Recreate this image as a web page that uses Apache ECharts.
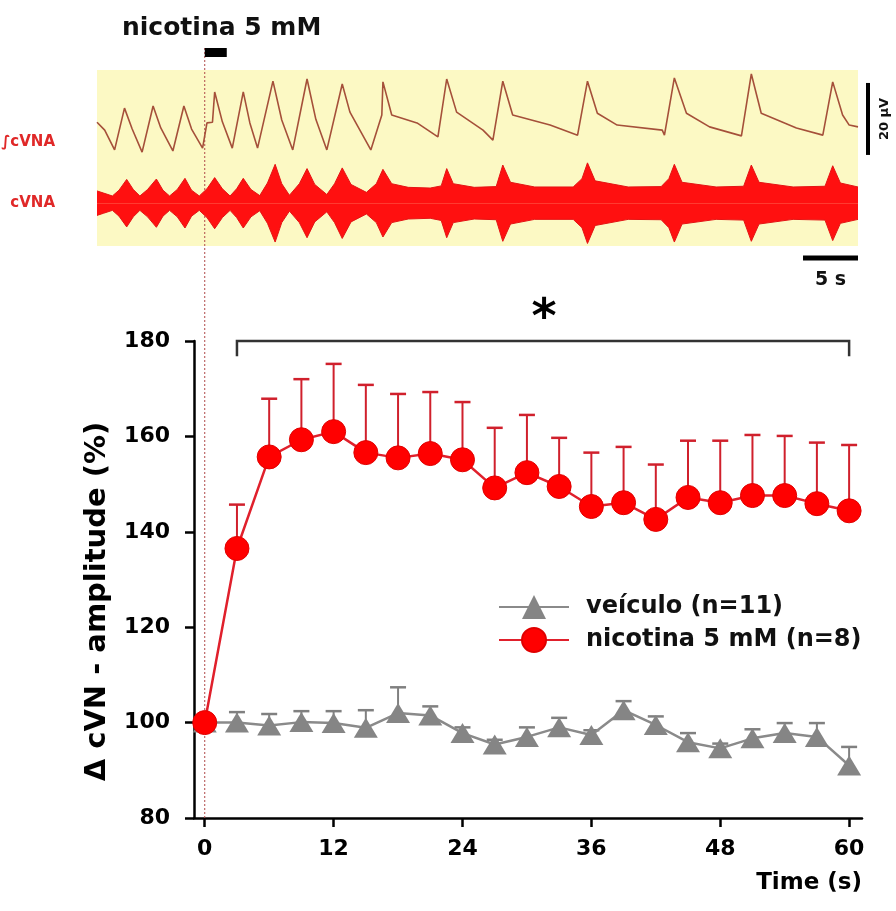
<!DOCTYPE html>
<html>
<head>
<meta charset="utf-8">
<style>
  html, body { margin: 0; padding: 0; background: #fff; }
  #chart { width: 896px; height: 911px; }
</style>
</head>
<body>
<div id="chart"></div>
<script src="https://cdn.jsdelivr.net/npm/echarts@6.0.0/dist/echarts.min.js"></script>
<script>
  // --- bottom chart: amplitude (%) vs time ---
  const times = [0, 3, 6, 9, 12, 15, 18, 21, 24, 27, 30, 33, 36, 39, 42, 45, 48, 51, 54, 57, 60]
  const veiculoMean = [100, 100, 99.4, 100.1, 99.9, 98.9, 102, 101.5, 97.8, 95.4, 97, 99, 97.4, 102.6, 99.5, 95.9, 94.6, 96.7, 97.8, 97, 91]
  const veiculoSem = [0, 2.2, 2.4, 2.3, 2.5, 3.7, 5.4, 1.9, 1.2, 1.0, 2.0, 2.0, 1.0, 1.9, 1.8, 1.9, 1.0, 1.9, 2.1, 2.9, 3.9]
  const nicotinaMean = [100, 136.5, 155.7, 159.3, 161, 156.6, 155.5, 156.4, 155.1, 149.2, 152.4, 149.5, 145.3, 146.1, 142.6, 147.2, 146.1, 147.6, 147.6, 145.9, 144.4]
  const nicotinaSem = [0, 9.2, 12.2, 12.7, 14.2, 14.2, 13.4, 12.9, 12.1, 12.6, 12.1, 10.2, 11.3, 11.7, 11.5, 11.9, 13, 12.7, 12.5, 12.8, 13.8]
  const xTicks = [0, 12, 24, 36, 48, 60]
  const seriesNames = ['veículo (n=11)', 'nicotina 5 mM (n=8)']
  const sigFrom = 3
  const sigTo = 60
  const sigLevel = 180
  const sigDrop = 3.2

  // --- top panel: recordings (time s, µV) ---
  const integTrace = [
    [-9.8, 34.4], [-9.1, 32.2], [-8.2, 26.7], [-7.3, 38.3], [-6.6, 32.5], [-5.7, 26.1],
    [-4.7, 38.9], [-4.0, 32.8], [-2.9, 26.4], [-1.9, 38.9], [-1.2, 32.5], [-0.2, 27.2],
    [0.2, 34.2], [0.7, 34.4], [0.9, 42.8], [1.6, 34.5], [2.5, 27.2], [3.5, 42.8], [4.1, 34.2],
    [4.8, 27.2], [6.2, 45.8], [7.0, 35.0], [8.0, 26.7], [9.3, 46.4], [10.1, 35.2], [11.1, 26.7],
    [12.5, 45.0], [13.2, 37.2], [15.1, 26.7], [16.1, 36.4], [16.2, 45.6], [17.0, 36.4],
    [19.3, 34.2], [21.2, 30.3], [22.0, 46.4], [22.9, 37.2], [25.3, 32.2], [26.2, 29.4],
    [27.1, 45.8], [28.0, 36.4], [31.4, 33.6], [33.9, 30.8], [34.8, 45.8], [35.7, 36.9],
    [37.5, 33.6], [41.6, 32.2], [41.8, 30.8], [42.7, 46.7], [43.8, 36.9], [45.9, 33.1],
    [48.8, 30.6], [49.7, 47.8], [50.6, 36.9], [53.8, 32.8], [56.2, 30.8], [57.1, 45.6],
    [58.0, 36.4], [58.6, 33.6], [59.4, 33.1]
  ]
  const rawCenter = 11.9
  const rawEnvelope = [
    [-9.8, 3.4], [-9.2, 2.8], [-8.4, 2.0], [-7.8, 3.6], [-7.1, 6.6], [-6.5, 3.8], [-5.9, 2.0],
    [-5.2, 3.8], [-4.4, 6.7], [-3.8, 3.6], [-3.2, 2.0], [-2.5, 3.8], [-1.8, 6.9], [-1.2, 3.6],
    [-0.5, 2.0], [0.2, 4.0], [0.9, 7.1], [1.6, 4.0], [2.3, 2.0], [2.9, 4.0], [3.5, 6.9],
    [4.2, 3.8], [5.0, 2.1], [5.7, 5.6], [6.4, 10.8], [7.0, 5.4], [7.7, 2.2], [8.6, 5.4],
    [9.3, 9.6], [10.0, 5.2], [11.1, 2.4], [11.8, 5.4], [12.5, 9.8], [13.3, 5.2], [14.7, 3.0],
    [15.6, 5.4], [16.2, 9.4], [17.0, 5.4], [18.5, 4.4], [20.5, 4.2], [21.5, 4.8], [22.0, 9.6],
    [22.6, 5.4], [24.5, 4.4], [26.5, 4.6], [27.1, 10.6], [27.8, 5.8], [30.0, 4.5], [33.5, 4.5],
    [34.3, 6.8], [34.8, 11.2], [35.5, 6.2], [38.5, 4.5], [41.5, 4.6], [42.2, 6.8], [42.7, 10.8],
    [43.4, 5.8], [46.5, 4.5], [49.0, 4.7], [49.7, 10.6], [50.4, 5.8], [53.5, 4.5], [56.4, 4.7],
    [57.1, 10.4], [57.8, 5.6], [59.4, 4.5]
  ]
  const drugOn = [0, 2]
  const scaleTime = [54.4, 59.4]
  const scaleVolt = [25.3, 45.3]

  const FONT = 'DejaVu Sans'

  const chart = echarts.init(document.getElementById('chart'), null, { renderer: 'canvas' })

  const errorBars = (means, sems, color) => ({
    type: 'custom',
    xAxisIndex: 1,
    yAxisIndex: 1,
    z: 2,
    silent: true,
    data: times.map((t, i) => [t, means[i], means[i] + sems[i]]),
    renderItem: (params, api) => {
      const base = api.coord([api.value(0), api.value(1)])
      const top = api.coord([api.value(0), api.value(2)])
      return {
        type: 'group',
        children: [
          { type: 'line', shape: { x1: base[0], y1: base[1], x2: top[0], y2: top[1] }, style: { stroke: color, lineWidth: 2 } },
          { type: 'line', shape: { x1: top[0] - 8, y1: top[1], x2: top[0] + 8, y2: top[1] }, style: { stroke: color, lineWidth: 2.5 } }
        ]
      }
    }
  })

  const option = {
    animation: false,
    backgroundColor: '#fff',
    grid: [
      { left: 97, right: 38, top: 70, height: 176, show: true, backgroundColor: '#fcf9c4', borderWidth: 0 },
      { left: 194, right: 34, top: 341, bottom: 93 }
    ],
    xAxis: [
      { type: 'value', gridIndex: 0, min: -9.8, max: 59.4, show: false },
      {
        type: 'value',
        gridIndex: 1,
        min: -1,
        max: 61.2,
        axisLine: { show: true, onZero: false, lineStyle: { color: '#000', width: 2.5 } },
        axisTick: { show: true, length: 9, customValues: xTicks, lineStyle: { color: '#000', width: 2.5 } },
        axisLabel: { customValues: xTicks, margin: 20, color: '#000', fontFamily: FONT, fontWeight: 'bold', fontSize: 22 },
        splitLine: { show: false },
        name: 'Time (s)',
        nameLocation: 'end',
        nameGap: 0,
        nameTextStyle: { color: '#000', fontFamily: FONT, fontWeight: 'bold', fontSize: 23, align: 'right', verticalAlign: 'top', padding: [54, 0, 0, 0] }
      }
    ],
    yAxis: [
      { type: 'value', gridIndex: 0, min: 0, max: 48.9, show: false },
      {
        type: 'value',
        gridIndex: 1,
        min: 80,
        max: 180,
        interval: 20,
        axisLine: { show: true, onZero: false, lineStyle: { color: '#000', width: 2.5 } },
        axisTick: { show: true, length: 9, lineStyle: { color: '#000', width: 2.5 } },
        axisLabel: { margin: 24, color: '#000', fontFamily: FONT, fontWeight: 'bold', fontSize: 22 },
        splitLine: { show: false },
        name: 'Δ cVN - amplitude (%)',
        nameLocation: 'middle',
        nameGap: 82,
        nameTextStyle: { color: '#000', fontFamily: FONT, fontWeight: 'bold', fontSize: 29, padding: [0, 44, 0, 0] }
      }
    ],
    legend: {
      data: seriesNames,
      orient: 'vertical',
      left: 493,
      top: 590,
      itemWidth: 70,
      itemHeight: 30,
      itemGap: 8,
      textStyle: { color: '#111', fontFamily: FONT, fontWeight: 'bold', fontSize: 24, padding: [0, 0, 0, 12] }
    },
    series: [
      {
        type: 'line',
        xAxisIndex: 0,
        yAxisIndex: 0,
        showSymbol: false,
        silent: true,
        data: rawEnvelope.map(d => [d[0], rawCenter + d[1]]),
        lineStyle: { color: '#e41414', width: 1 },
        areaStyle: { color: '#ff1010', opacity: 1, origin: rawCenter }
      },
      {
        type: 'line',
        xAxisIndex: 0,
        yAxisIndex: 0,
        showSymbol: false,
        silent: true,
        data: rawEnvelope.map(d => [d[0], rawCenter - d[1]]),
        lineStyle: { color: '#e41414', width: 1 },
        areaStyle: { color: '#ff1010', opacity: 1, origin: rawCenter }
      },
      {
        type: 'line',
        xAxisIndex: 0,
        yAxisIndex: 0,
        showSymbol: false,
        silent: true,
        data: integTrace,
        lineStyle: { color: '#a5503a', width: 1.6 }
      },
      errorBars(veiculoMean, veiculoSem, '#808080'),
      errorBars(nicotinaMean, nicotinaSem, '#d0202c'),
      {
        name: seriesNames[0],
        type: 'line',
        xAxisIndex: 1,
        yAxisIndex: 1,
        z: 3,
        data: times.map((t, i) => [t, veiculoMean[i]]),
        symbol: 'triangle',
        symbolSize: [24, 20],
        itemStyle: { color: '#858585' },
        lineStyle: { color: '#8a8a8a', width: 2.5 }
      },
      {
        name: seriesNames[1],
        type: 'line',
        xAxisIndex: 1,
        yAxisIndex: 1,
        z: 4,
        data: times.map((t, i) => [t, nicotinaMean[i]]),
        symbol: 'circle',
        symbolSize: 24,
        itemStyle: { color: '#ff0000', borderColor: '#e00000', borderWidth: 1 },
        lineStyle: { color: '#e0202c', width: 2.5 }
      }
    ]
  }

  chart.setOption(option)

  // annotations placed through the axes' own scales
  const xb = v => chart.convertToPixel({ xAxisIndex: 1 }, v)
  const yb = v => chart.convertToPixel({ yAxisIndex: 1 }, v)
  const xt = v => chart.convertToPixel({ xAxisIndex: 0 }, v)
  const yt = v => chart.convertToPixel({ yAxisIndex: 0 }, v)

  const boldFont = size => 'bold ' + size + 'px "' + FONT + '"'

  chart.setOption({
    graphic: [
      { type: 'line', z: 1, shape: { x1: xb(0), y1: 48, x2: xb(0), y2: yb(80) }, style: { stroke: '#b04848', lineWidth: 1, lineDash: [2, 2] } },
      { type: 'rect', z: 10, shape: { x: xt(drugOn[0]), y: 48, width: xt(drugOn[1]) - xt(drugOn[0]), height: 9 }, style: { fill: '#000' } },
      { type: 'text', z: 10, x: 122, y: 28, style: { text: 'nicotina 5 mM', font: boldFont(25), fill: '#111', verticalAlign: 'middle' } },
      {
        type: 'polyline', z: 10,
        shape: { points: [[xb(sigFrom), yb(sigLevel - sigDrop)], [xb(sigFrom), yb(sigLevel)], [xb(sigTo), yb(sigLevel)], [xb(sigTo), yb(sigLevel - sigDrop)]] },
        style: { stroke: '#333', lineWidth: 2.5, fill: null }
      },
      { type: 'text', z: 10, x: xb(31.6), y: yb(184.6), style: { text: '*', font: boldFont(48), fill: '#000', align: 'center', verticalAlign: 'middle' } },
      { type: 'line', z: 10, shape: { x1: 868, y1: yt(scaleVolt[0]), x2: 868, y2: yt(scaleVolt[1]) }, style: { stroke: '#000', lineWidth: 4 } },
      { type: 'text', z: 10, x: 885, y: (yt(scaleVolt[0]) + yt(scaleVolt[1])) / 2, rotation: Math.PI / 2, style: { text: '20 µV', font: boldFont(13), fill: '#111', align: 'center', verticalAlign: 'middle' } },
      { type: 'line', z: 10, shape: { x1: xt(scaleTime[0]), y1: 258, x2: xt(scaleTime[1]), y2: 258 }, style: { stroke: '#000', lineWidth: 5 } },
      { type: 'text', z: 10, x: (xt(scaleTime[0]) + xt(scaleTime[1])) / 2, y: 280, style: { text: '5 s', font: boldFont(19), fill: '#111', align: 'center', verticalAlign: 'middle' } },
      { type: 'text', z: 10, x: 55, y: yt(29), style: { text: '∫cVNA', font: boldFont(15), fill: '#e02828', align: 'right', verticalAlign: 'middle' } },
      { type: 'text', z: 10, x: 55, y: yt(rawCenter), style: { text: 'cVNA', font: boldFont(15), fill: '#e02828', align: 'right', verticalAlign: 'middle' } }
    ]
  })
</script>
</body>
</html>
